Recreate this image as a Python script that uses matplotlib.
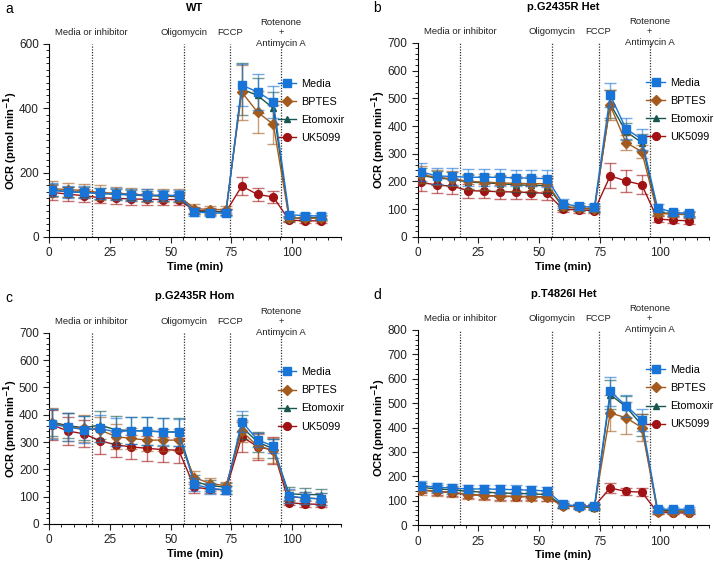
import matplotlib
matplotlib.use("Agg")
import matplotlib.pyplot as plt
from matplotlib.ticker import MultipleLocator
from matplotlib.lines import Line2D
import numpy as np

plt.rcParams['font.family'] = ['Liberation Sans', 'DejaVu Sans']

# measurement times (min)
time = [1.3, 7.8, 14.3, 20.8, 27.3, 33.8, 40.3, 46.8, 53.3,
        59.8, 66.3, 72.8, 79.3, 85.8, 92.3, 98.8, 105.3, 111.8]

conditions = ["Media", "BPTES", "Etomoxir", "UK5099"]
panel_titles = ["WT", "p.G2435R Het", "p.G2435R Hom", "p.T4826I Het"]
panel_letters = ["a", "b", "c", "d"]
injections = [17.5, 55.5, 74.5, 95.5]
injection_labels = ["Media or inhibitor", "Oligomycin", "FCCP", "Rotenone\n+\nAntimycin A"]

# WT
wt_mean = {
    "Media":    [147, 140, 139, 135, 134, 131, 130, 129, 129, 78, 74, 74, 472, 451, 420, 69, 66, 65],
    "BPTES":    [150, 147, 144, 138, 136, 133, 130, 128, 128, 88, 85, 85, 450, 388, 350, 58, 58, 58],
    "Etomoxir": [145, 140, 139, 135, 133, 130, 128, 127, 125, 80, 78, 78, 460, 440, 400, 57, 60, 60],
    "UK5099":   [138, 133, 128, 122, 120, 118, 117, 116, 116, 82, 80, 78, 158, 132, 124, 52, 50, 50],
}
wt_err = {
    "Media":    [20, 18, 18, 18, 18, 18, 18, 18, 18, 12, 10, 10, 65, 55, 50, 8, 8, 8],
    "BPTES":    [25, 22, 22, 22, 20, 20, 20, 20, 20, 15, 12, 12, 85, 65, 60, 8, 8, 8],
    "Etomoxir": [18, 16, 16, 16, 16, 16, 16, 16, 16, 10, 10, 10, 80, 55, 50, 8, 8, 8],
    "UK5099":   [22, 22, 20, 18, 18, 18, 18, 18, 18, 10, 10, 10, 28, 20, 20, 6, 6, 6],
}

# p.G2435R Het
het_mean = {
    "Media":    [235, 220, 218, 215, 215, 215, 213, 212, 210, 120, 110, 107, 512, 390, 352, 105, 88, 85],
    "BPTES":    [225, 215, 210, 200, 198, 195, 193, 192, 192, 110, 105, 102, 475, 340, 308, 85, 82, 82],
    "Etomoxir": [222, 212, 208, 198, 195, 192, 188, 186, 185, 108, 103, 100, 480, 380, 340, 90, 82, 80],
    "UK5099":   [197, 187, 183, 167, 165, 163, 162, 160, 157, 100, 97, 95, 220, 202, 188, 65, 60, 58],
}
het_err = {
    "Media":    [32, 30, 30, 30, 30, 30, 30, 30, 30, 15, 12, 12, 42, 38, 38, 12, 10, 10],
    "BPTES":    [30, 28, 28, 28, 28, 28, 28, 28, 28, 12, 10, 10, 55, 28, 25, 10, 8, 8],
    "Etomoxir": [28, 26, 26, 26, 26, 26, 26, 26, 26, 12, 10, 10, 50, 30, 30, 10, 8, 8],
    "UK5099":   [30, 28, 28, 25, 25, 25, 25, 25, 25, 10, 10, 10, 45, 40, 35, 10, 10, 10],
}

# p.G2435R Hom
hom_mean = {
    "Media":    [365, 355, 345, 350, 337, 342, 340, 338, 335, 145, 130, 125, 375, 308, 285, 102, 95, 92],
    "BPTES":    [370, 355, 350, 345, 320, 313, 307, 307, 307, 170, 148, 140, 340, 285, 270, 100, 95, 92],
    "Etomoxir": [372, 360, 352, 362, 345, 342, 340, 337, 337, 155, 140, 135, 355, 300, 275, 110, 108, 107],
    "UK5099":   [362, 340, 330, 305, 290, 282, 277, 272, 270, 135, 127, 125, 320, 283, 270, 78, 73, 72],
}
hom_err = {
    "Media":    [55, 50, 50, 50, 50, 50, 50, 50, 50, 25, 20, 15, 40, 25, 25, 25, 22, 22],
    "BPTES":    [55, 50, 50, 45, 45, 40, 40, 40, 40, 25, 20, 15, 40, 45, 45, 25, 22, 22],
    "Etomoxir": [50, 45, 45, 50, 50, 50, 50, 50, 50, 25, 20, 15, 45, 35, 35, 25, 22, 22],
    "UK5099":   [55, 50, 50, 50, 45, 45, 45, 45, 45, 20, 15, 15, 55, 50, 50, 10, 10, 10],
}

# p.T4826I Het
t48_mean = {
    "Media":    [162, 155, 152, 148, 148, 147, 145, 143, 140, 85, 78, 77, 548, 490, 430, 65, 65, 65],
    "BPTES":    [143, 138, 135, 125, 122, 118, 118, 117, 115, 78, 75, 75, 460, 440, 400, 55, 55, 55],
    "Etomoxir": [155, 148, 145, 138, 135, 132, 130, 128, 125, 80, 75, 72, 535, 485, 410, 60, 58, 58],
    "UK5099":   [145, 138, 133, 125, 122, 118, 117, 116, 115, 80, 77, 78, 152, 138, 135, 52, 50, 50],
}
t48_err = {
    "Media":    [20, 18, 18, 18, 18, 18, 18, 18, 18, 12, 10, 10, 58, 45, 45, 10, 10, 10],
    "BPTES":    [20, 20, 20, 18, 18, 18, 18, 18, 18, 10, 10, 10, 75, 65, 55, 8, 8, 8],
    "Etomoxir": [18, 16, 16, 16, 16, 16, 16, 16, 16, 10, 10, 10, 60, 45, 45, 8, 8, 8],
    "UK5099":   [15, 15, 15, 15, 15, 15, 15, 15, 15, 10, 8, 8, 20, 15, 15, 6, 6, 6],
}

means = [wt_mean, het_mean, hom_mean, t48_mean]
errs = [wt_err, het_err, hom_err, t48_err]
ymax = [600, 700, 700, 800]
ymajor = [200, 100, 100, 100]

colors = {"Media": "#1874d6", "BPTES": "#a35a1c", "Etomoxir": "#17574f", "UK5099": "#a01214"}
markers = {"Media": "s", "BPTES": "D", "Etomoxir": "^", "UK5099": "o"}
msizes = {"Media": 5.8, "BPTES": 4.6, "Etomoxir": 4.8, "UK5099": 5.6}
zorders = {"UK5099": 3, "Etomoxir": 4, "BPTES": 5, "Media": 6}

fig = plt.figure(figsize=(7.14, 5.64), dpi=100)
positions = [
    [0.069, 0.580, 0.408, 0.342],
    [0.585, 0.580, 0.408, 0.344],
    [0.069, 0.071, 0.408, 0.339],
    [0.585, 0.069, 0.408, 0.346],
]

for i in range(4):
    ax = fig.add_axes(positions[i])
    for c in ["UK5099", "Etomoxir", "BPTES", "Media"]:
        ax.errorbar(time, means[i][c], yerr=errs[i][c], fmt="none",
                    ecolor=colors[c], elinewidth=1.0, capsize=4, capthick=1.0,
                    alpha=0.6, zorder=zorders[c])
        ax.plot(time, means[i][c], color=colors[c], lw=1.0, marker=markers[c],
                ms=msizes[c], mec=colors[c], zorder=zorders[c] + 0.5)
    for x in injections:
        ax.axvline(x, color="#333333", ls=(0, (1, 1.2)), lw=0.9, zorder=1)
    for x, lab in zip(injections, injection_labels):
        ax.text(x, 1.057, lab, transform=ax.get_xaxis_transform(), ha="center",
                va="center", fontsize=6.8, linespacing=1.2, color="#222222")
    ax.set_xlim(0, 120)
    ax.set_ylim(0, ymax[i])
    ax.xaxis.set_major_locator(MultipleLocator(25))
    ax.xaxis.set_minor_locator(MultipleLocator(5))
    ax.yaxis.set_major_locator(MultipleLocator(ymajor[i]))
    ax.yaxis.set_minor_locator(MultipleLocator(20))
    ax.tick_params(which="major", labelsize=8.5, length=4, width=0.8, colors="#222222")
    ax.tick_params(which="minor", length=2, width=0.6)
    for s in ["top", "right"]:
        ax.spines[s].set_visible(False)
    for s in ["left", "bottom"]:
        ax.spines[s].set_linewidth(0.8)
    ax.set_xlabel("Time (min)", fontsize=8, fontweight="bold", labelpad=2)
    ax.set_ylabel(r"OCR (pmol min$^{\mathbf{-1}}$)", fontsize=8, fontweight="bold")
    ax.yaxis.set_label_coords(-0.102, 0.5)
    ax.set_title(panel_titles[i], fontsize=8, fontweight="bold", pad=24)
    handles = [Line2D([], [], color=colors[c], lw=1.0, marker=markers[c],
                      ms=msizes[c], mec=colors[c]) for c in conditions]
    ax.legend(handles, conditions, loc="upper left", bbox_to_anchor=(0.785, 0.82),
              frameon=False, fontsize=7.8, handlelength=1.7, labelspacing=0.75,
              borderaxespad=0, handletextpad=0.45, borderpad=0)
    fig.text(positions[i][0] - 0.062, positions[i][1] + positions[i][3] + 0.062,
             panel_letters[i], fontsize=10, va="center", ha="left")

fig.savefig("out.png", dpi=100)
